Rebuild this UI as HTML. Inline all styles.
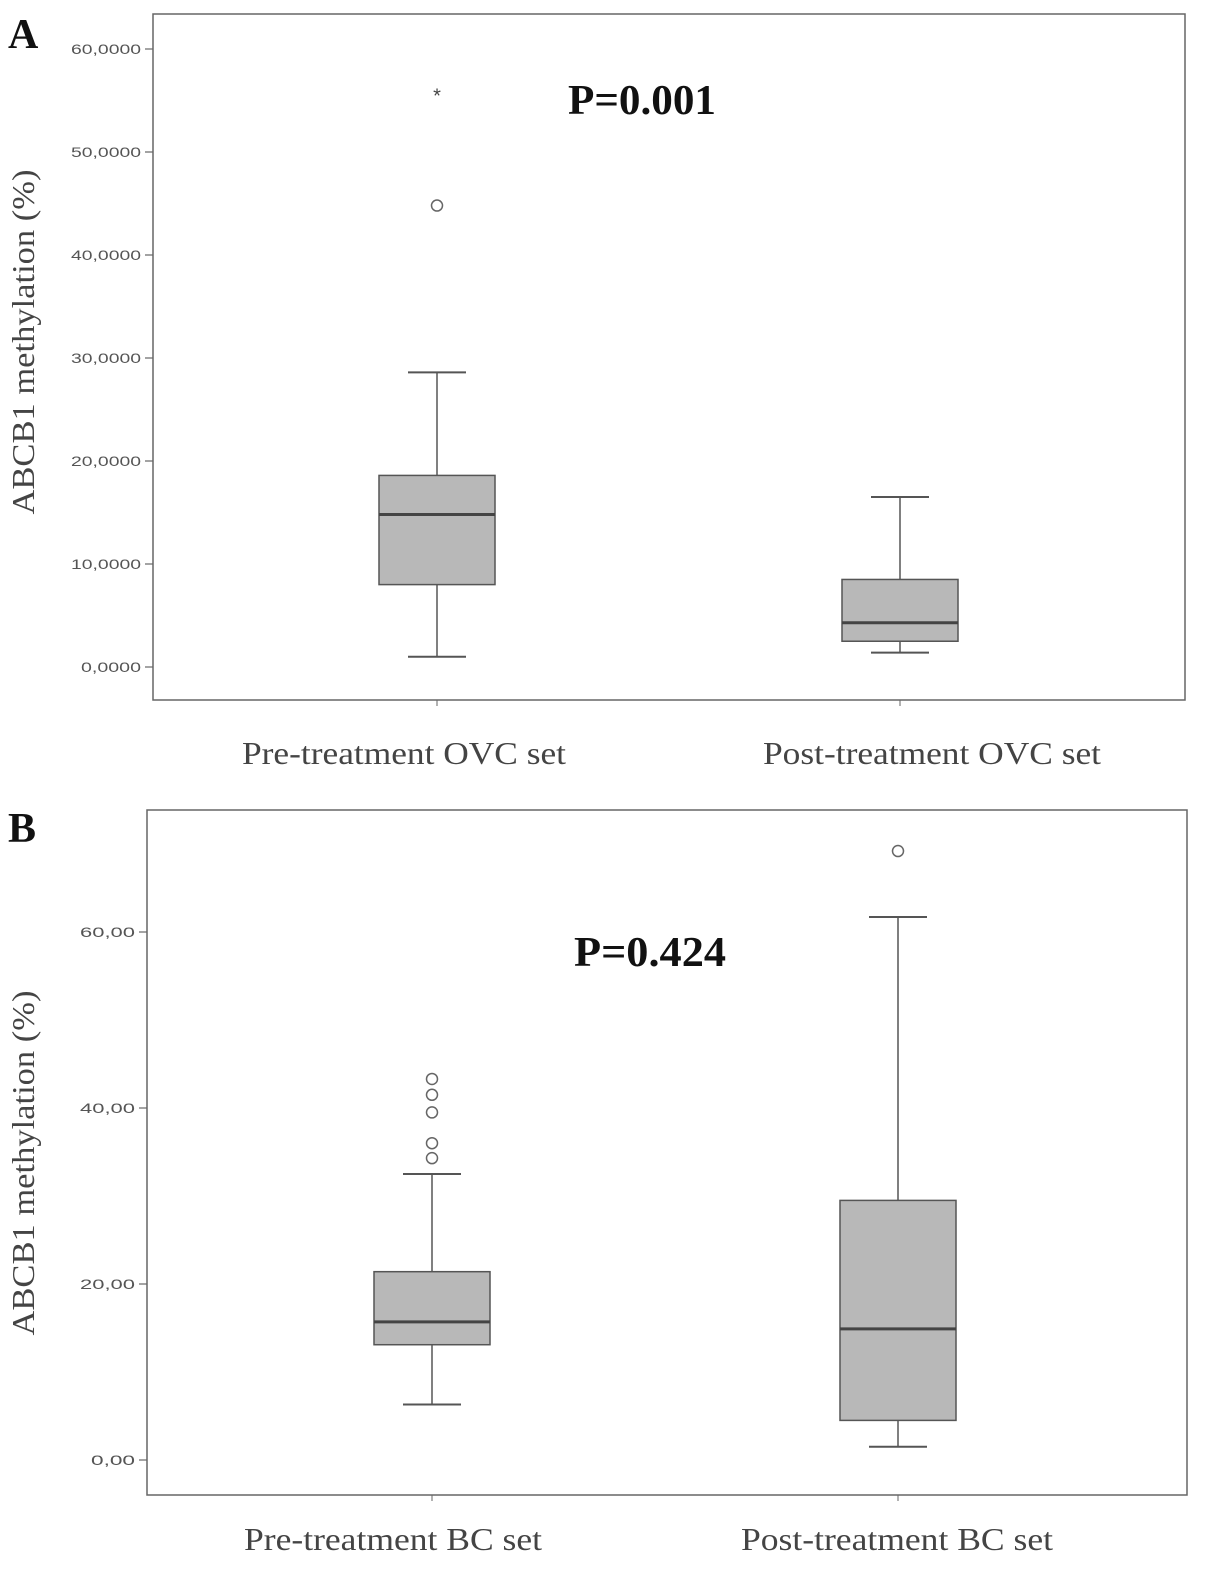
<!DOCTYPE html>
<html><head><meta charset="utf-8"><style>
html,body{margin:0;padding:0;background:#fff;}
svg{display:block;}
</style></head><body>
<svg id="chart" width="1205" height="1582" xmlns="http://www.w3.org/2000/svg"></svg>
<script>
// Panel A data
const catsA = ["Pre-treatment OVC set", "Post-treatment OVC set"];
const ticksA = [0,10,20,30,40,50,60];
const tickLabelsA = ["0,0000","10,0000","20,0000","30,0000","40,0000","50,0000","60,0000"];
const whiskLoA = [1.0, 1.4];
const q1A = [8.0, 2.5];
const medA = [14.8, 4.3];
const q3A = [18.6, 8.5];
const whiskHiA = [28.6, 16.5];
const outCircleA = [[44.8],[]];
const outStarA = [[55.7],[]];
// Panel B data
const catsB = ["Pre-treatment BC set", "Post-treatment BC set"];
const ticksB = [0,20,40,60];
const tickLabelsB = ["0,00","20,00","40,00","60,00"];
const whiskLoB = [6.3, 1.5];
const q1B = [13.1, 4.5];
const medB = [15.7, 14.9];
const q3B = [21.4, 29.5];
const whiskHiB = [32.5, 61.7];
const outCircleB = [[43.3,41.5,39.5,36.0,34.3],[69.2]];
const outStarB = [[],[]];

const svg = document.getElementById('chart');
const NS = 'http://www.w3.org/2000/svg';
function mk(tag, attrs, parent){const e=document.createElementNS(NS,tag);for(const k in attrs)e.setAttribute(k,attrs[k]);(parent||svg).appendChild(e);return e;}

function panel(cfg){
  const g = mk('g',{});
  
  
  const y = v => cfg.y0 - (v - 0) * cfg.ppu;
  const frame = mk('rect',{x:cfg.fx,y:cfg.fy,width:cfg.fw,height:cfg.fh,fill:'none',stroke:'#666','stroke-width':1.5},g);
  
  
  cfg.ticks.forEach((t,i)=>{
    const ln = mk('line',{x1:cfg.fx-8,x2:cfg.fx,y1:y(t),y2:y(t),stroke:'#666','stroke-width':1.2},g);
    
    
    const lab = cfg.tickLabels[i];
    const tx = mk('text',{x:cfg.fx-12,y:y(t)+5,'text-anchor':'end','font-family':'Liberation Sans, sans-serif','font-size':14,fill:'#555',textLength:lab.length*cfg.charW,lengthAdjust:'spacingAndGlyphs'},g);
    tx.textContent = lab;
    
    
  });
  const at = mk('text',{x:0,y:0,transform:`translate(${cfg.titleX},${cfg.titleY}) rotate(-90)`,'text-anchor':'middle','font-family':'Liberation Serif, serif','font-size':32,fill:'#444',textLength:345,lengthAdjust:'spacingAndGlyphs'},g);
  at.textContent = 'ABCB1 methylation (%)';
  
  
  cfg.cats.forEach((c,i)=>{
    const cx = cfg.cx[i], hw = 58;
    const xt = mk('line',{x1:cx,x2:cx,y1:cfg.fy+cfg.fh,y2:cfg.fy+cfg.fh+6,stroke:'#666'},g);
    
    
    const w1 = mk('line',{x1:cx,x2:cx,y1:y(cfg.q3[i]),y2:y(cfg.hi[i]),stroke:'#555','stroke-width':1.5},g);
    
    
    const w2 = mk('line',{x1:cx,x2:cx,y1:y(cfg.q1[i]),y2:y(cfg.lo[i]),stroke:'#555','stroke-width':1.5},g);
    
    
    const c1 = mk('line',{x1:cx-29,x2:cx+29,y1:y(cfg.hi[i]),y2:y(cfg.hi[i]),stroke:'#555','stroke-width':2},g);
    
    
    const c2 = mk('line',{x1:cx-29,x2:cx+29,y1:y(cfg.lo[i]),y2:y(cfg.lo[i]),stroke:'#555','stroke-width':2},g);
    
    
    const bx = mk('rect',{x:cx-hw,y:y(cfg.q3[i]),width:hw*2,height:y(cfg.q1[i])-y(cfg.q3[i]),fill:'#b8b8b8',stroke:'#555','stroke-width':1.5},g);
    
    
    const md = mk('line',{x1:cx-hw,x2:cx+hw,y1:y(cfg.med[i]),y2:y(cfg.med[i]),stroke:'#444','stroke-width':3},g);
    
    
    cfg.oc[i].forEach(v=>{
      const o = mk('circle',{cx:cx,cy:y(v),r:5.5,fill:'none',stroke:'#666','stroke-width':1.5},g);
      
      
    });
    cfg.os[i].forEach(v=>{
      const s = mk('text',{x:cx,y:y(v)+9,'text-anchor':'middle','font-family':'Liberation Sans, sans-serif','font-size':20,fill:'#444'},g);
      s.textContent='*';
      
      
    });
    const cl = mk('text',{x:cfg.labX[i],y:cfg.labY,'text-anchor':'middle','font-family':'Liberation Serif, serif','font-size':32,fill:'#444',textLength:cfg.labW[i],lengthAdjust:'spacingAndGlyphs'},g);
    cl.textContent = c;
    
    
  });
  const p = mk('text',{x:cfg.px,y:cfg.py,'text-anchor':'middle','font-family':'Liberation Serif, serif','font-size':42,'font-weight':'bold',fill:'#111',textLength:cfg.pw,lengthAdjust:'spacingAndGlyphs'},g);
  p.textContent = cfg.p;
  
  
  const L = mk('text',{x:cfg.Lx,y:cfg.Ly,'font-family':'Liberation Serif, serif','font-size':42,'font-weight':'bold',fill:'#111'},g);
  L.textContent = cfg.letter;
  
  
}

panel({name:'panel-a',fx:153,fy:14,fw:1032,fh:686,y0:667,ppu:10.3,ticks:ticksA,tickLabels:tickLabelsA,charW:10,
  titleX:34,titleY:342,cats:catsA,cx:[437,900],lo:whiskLoA,q1:q1A,med:medA,q3:q3A,hi:whiskHiA,oc:outCircleA,os:outStarA,
  labX:[404,932],labW:[324,338],labY:764,p:'P=0.001',px:642,py:114,pw:148,letter:'A',Lx:8,Ly:48});
panel({name:'panel-b',fx:147,fy:810,fw:1040,fh:685,y0:1460,ppu:8.8,ticks:ticksB,tickLabels:tickLabelsB,charW:11,
  titleX:34,titleY:1163,cats:catsB,cx:[432,898],lo:whiskLoB,q1:q1B,med:medB,q3:q3B,hi:whiskHiB,oc:outCircleB,os:outStarB,
  labX:[393,897],labW:[298,312],labY:1550,p:'P=0.424',px:650,py:966,pw:152,letter:'B',Lx:8,Ly:842});
</script>
</body></html>
